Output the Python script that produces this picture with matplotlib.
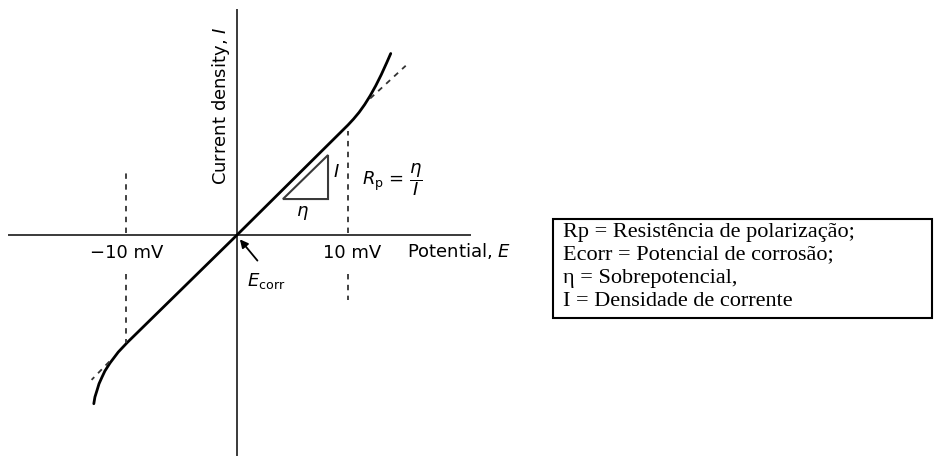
import numpy as np
import matplotlib.pyplot as plt
from matplotlib.patches import Rectangle, Polygon

# polarisation curve read in mV (E) against current in the same scale units (I)
curve_E = [-12.9, -12.8, -12.6, -12.43, -12.16, -11.9, -11.44, -10.7, -9.9, 0.0,
           10.0, 10.5, 11.0, 11.5, 12.0, 12.5, 13.0, 13.5, 13.85]
curve_I = [-15.2, -14.6, -13.96, -13.4, -12.8, -12.25, -11.53, -10.55, -9.7, 0.0,
           9.91, 10.45, 11.05, 11.75, 12.55, 13.45, 14.45, 15.55, 16.35]

# tangent extensions of the linear part
tangent_hi_E = [12.0, 15.2]
tangent_hi_I = [12.3, 15.25]
tangent_lo_E = [-11.5, -13.1]
tangent_lo_I = [-11.4, -13.05]

# +/-10 mV guides (upper and lower pieces)
guide_E = [-10.0, 10.0]
guide_upper = [(0.2, 5.9), (0.2, 9.4)]
guide_lower = [(-3.5, -9.7), (-3.5, -5.9)]
guide_labels = ["\u221210 mV", "10 mV"]

# slope triangle
tri_E = [4.14, 8.2, 8.2]
tri_I = [3.24, 3.24, 7.2]

box_lines = [
    "Rp = Resistência de polarização;",
    "Ecorr = Potencial de corrosão;",
    "\u03b7 = Sobrepotencial,",
    "I = Densidade de corrente",
]

W, H = 935, 459
fig = plt.figure(figsize=(W / 100, H / 100), dpi=100)
ax = fig.add_axes([0, 0, 1, 1])
px = 11.1
ax.set_xlim(-237 / px, (W - 237) / px)
ax.set_ylim(-(H - 235) / px, 235 / px)
ax.axis("off")

axis_col = "#3a3a3a"
ax.plot([-20.5, 21.0], [0, 0], color=axis_col, lw=1.4)
ax.plot([0, 0], [-19.8, 20.3], color=axis_col, lw=1.4)

ax.plot(curve_E, curve_I, color="black", lw=2.0, solid_capstyle="round",
        solid_joinstyle="round")
for xs, ys in [(tangent_hi_E, tangent_hi_I), (tangent_lo_E, tangent_lo_I)]:
    ax.plot(xs, ys, color="#333333", lw=1.3, ls=(0, (3, 3)))

for e, up, lo in zip(guide_E, guide_upper, guide_lower):
    ax.plot([e, e], up, color="#333333", lw=1.3, ls=(0, (3, 3)))
    ax.plot([e, e], lo, color="#333333", lw=1.3, ls=(0, (3, 3)))

ax.add_patch(Polygon(list(zip(tri_E, tri_I)), closed=True, fill=False,
                     edgecolor=axis_col, lw=1.5))

fs = 13
ax.text(-9.9, -1.6, guide_labels[0], fontsize=fs, ha="center", va="center")
ax.text(10.4, -1.6, guide_labels[1], fontsize=fs, ha="center", va="center")
ax.text(15.3, -1.4, "Potential, $E$", fontsize=fs, ha="left", va="center")
ax.text(-1.4, 11.6, "Current density, $I$", fontsize=fs, rotation=90,
        ha="center", va="center")
ax.text(0.9, -4.1, r"$E_{\mathrm{corr}}$", fontsize=fs, ha="left", va="center")
ax.annotate("", xy=(0.1, -0.2), xytext=(2.0, -2.5),
            arrowprops=dict(arrowstyle="-|>", color="black", lw=1.3,
                            mutation_scale=12))
ax.text(9.0, 5.7, "$I$", fontsize=fs, ha="center", va="center")
ax.text(5.9, 2.0, r"$\eta$", fontsize=fs, ha="center", va="center")
ax.text(11.3, 5.0, r"$R_\mathrm{p}$ = $\dfrac{\eta}{I}$", fontsize=fs,
        ha="left", va="center")

# legend box on the right
fig.patches.append(Rectangle((553 / W, 1 - 318 / H), (932 - 553) / W, (318 - 219) / H,
                             transform=fig.transFigure, fill=False,
                             edgecolor="black", lw=1.5))
for k, line in enumerate(box_lines):
    fig.text(563 / W, 1 - (232 + 23 * k) / H, line, fontsize=16,
             family="Liberation Serif", ha="left", va="center")

fig.savefig("out.png", dpi=100)
